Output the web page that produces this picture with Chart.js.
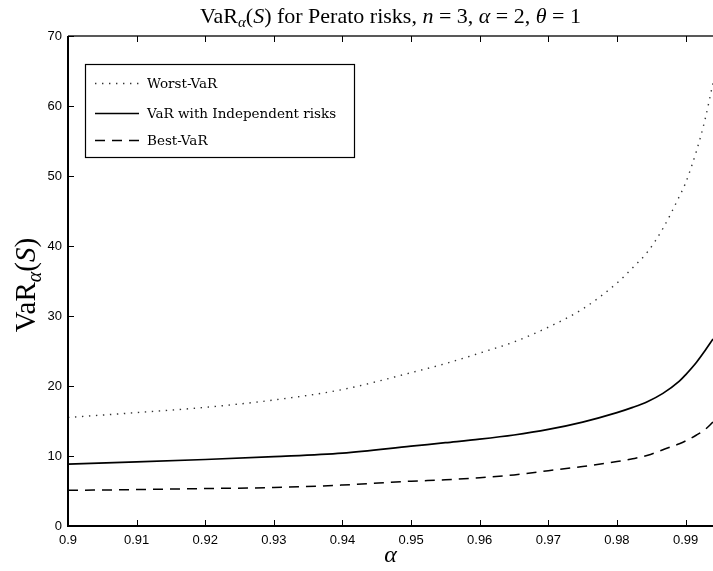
<!DOCTYPE html>
<html><head><meta charset="utf-8">
<script src="https://cdn.jsdelivr.net/npm/chart.js@4.4.0/dist/chart.umd.min.js"></script>
<style>html,body{margin:0;padding:0;background:#fff;overflow:hidden}
#wrap{position:relative;width:713px;height:571px}</style>
</head><body><div id="wrap"><canvas id="c" width="713" height="571"></canvas></div>
<script>
// ---- data ----
const alphaLevels = [0.9, 0.91, 0.92, 0.93, 0.94, 0.95, 0.955, 0.96, 0.965, 0.97, 0.975, 0.98, 0.9823, 0.9845, 0.9867, 0.9891, 0.99, 0.9916, 0.9928, 0.994];
const worstVaR    = [15.5, 16.2, 16.95, 18.0, 19.5, 21.9, 23.2, 24.7, 26.3, 28.4, 31.0, 34.7, 36.9, 39.2, 42.5, 47.1, 49.0, 53.6, 57.9, 63.3];
const indepVaR    = [8.85, 9.15, 9.5, 9.9, 10.4, 11.4, 11.9, 12.4, 13.0, 13.8, 14.85, 16.2, 16.95, 17.8, 18.95, 20.7, 21.6, 23.4, 25.0, 26.7];
const bestVaR     = [5.1, 5.2, 5.35, 5.5, 5.85, 6.4, 6.6, 6.9, 7.3, 7.9, 8.5, 9.2, 9.6, 10.1, 10.9, 11.75, 12.15, 13.0, 13.75, 14.85];
const seriesLabels = ['Worst-VaR', 'VaR with Independent risks', 'Best-VaR'];
const xTickValues = [0.9, 0.91, 0.92, 0.93, 0.94, 0.95, 0.96, 0.97, 0.98, 0.99];
const yTickValues = [0, 10, 20, 30, 40, 50, 60, 70];
const xLimits = [0.9, 0.994];
const yLimits = [0, 70];

const SERIF = '"Liberation Serif", "DejaVu Serif", serif';
const SANS = '"Liberation Sans", Arial, sans-serif';

function pts(ys){ return alphaLevels.map((a,i)=>({x:a, y:ys[i]})); }

function drawSegments(ctx, segs, x, y, align){
  let w = 0;
  segs.forEach(s=>{ ctx.font = s.f; w += ctx.measureText(s.t).width; });
  let cx = align === 'center' ? x - w/2 : x;
  ctx.textBaseline = 'alphabetic';
  ctx.textAlign = 'left';
  segs.forEach(s=>{ ctx.font = s.f; ctx.fillText(s.t, cx, y + (s.dy||0)); cx += ctx.measureText(s.t).width; });
  return w;
}

const R20 = '22px ' + SERIF, I20 = 'italic 22px ' + SERIF, I14 = 'italic 15px ' + SERIF;
const titleSegs = [
  {t:'VaR', f:R20}, {t:'α', f:I14, dy:4}, {t:'(', f:R20}, {t:'S', f:I20}, {t:')', f:R20},
  {t:' for Perato risks, ', f:R20}, {t:'n', f:I20}, {t:' = 3, ', f:R20},
  {t:'α', f:I20}, {t:' = 2, ', f:R20}, {t:'θ', f:I20}, {t:' = 1', f:R20}
];
const R22 = '29px ' + SERIF, I22 = 'italic 29px ' + SERIF, I15 = 'italic 20px ' + SERIF;
const yLabelSegs = [ {t:'VaR', f:R22}, {t:'α', f:I15, dy:6}, {t:'(', f:R22}, {t:'S', f:I22}, {t:')', f:R22} ];
const xLabelSegs = [ {t:'α', f:'italic 24px ' + SERIF} ];

const decor = {
  id: 'decor',
  afterDatasetsDraw(chart){
    const ctx = chart.ctx, a = chart.chartArea;
    const xs = chart.scales.x, ys = chart.scales.y;
    ctx.save();
    ctx.strokeStyle = '#000';
    ctx.lineWidth = 2;
    ctx.beginPath();
    ctx.moveTo(a.left, a.top); ctx.lineTo(a.left, a.bottom); ctx.lineTo(a.right, a.bottom);
    ctx.stroke();
    ctx.lineWidth = 1.3; ctx.strokeStyle = '#222';
    ctx.beginPath(); ctx.moveTo(a.left, a.top); ctx.lineTo(a.right, a.top); ctx.stroke();
    ctx.lineWidth = 1; ctx.strokeStyle = '#000';
    ctx.beginPath();
    xs.ticks.forEach(t=>{
      const px = Math.round(xs.getPixelForValue(t.value)) + 0.5;
      ctx.moveTo(px, a.bottom); ctx.lineTo(px, a.bottom - 6);
      ctx.moveTo(px, a.top); ctx.lineTo(px, a.top + 6);
    });
    ys.ticks.forEach(t=>{
      const py = Math.round(ys.getPixelForValue(t.value)) + 0.5;
      ctx.moveTo(a.left, py); ctx.lineTo(a.left + 6, py);
    });
    ctx.stroke();
    // legend
    const bx = 85, by = 64, bw = 269, bh = 93;
    ctx.fillStyle = '#fff';
    ctx.fillRect(bx, by, bw, bh);
    ctx.lineWidth = 1.2; ctx.strokeStyle = '#000';
    ctx.strokeRect(bx + 0.5, by + 0.5, bw, bh);
    const rows = [83, 113, 140];
    chart.data.datasets.forEach((ds, i)=>{
      const y = rows[i];
      ctx.save();
      ctx.strokeStyle = ds.borderColor; ctx.lineWidth = ds.borderWidth;
      ctx.setLineDash(ds.borderDash || []);
      ctx.beginPath(); ctx.moveTo(95, y + 0.5); ctx.lineTo(139, y + 0.5); ctx.stroke();
      ctx.restore();
      ctx.fillStyle = '#000';
      ctx.font = '13.5px "DejaVu Serif", serif';
      ctx.textAlign = 'left'; ctx.textBaseline = 'middle';
      ctx.fillText(ds.label, 147, y + 1);
    });
    ctx.fillStyle = '#000';
    drawSegments(ctx, titleSegs, (a.left + a.right)/2, 23, 'center');
    drawSegments(ctx, xLabelSegs, (a.left + a.right)/2, 562, 'center');
    ctx.save();
    ctx.translate(35, (a.top + a.bottom)/2 + 4);
    ctx.rotate(-Math.PI/2);
    drawSegments(ctx, yLabelSegs, 0, 0, 'center');
    ctx.restore();
    ctx.restore();
  }
};

new Chart(document.getElementById('c'), {
  type: 'line',
  data: {
    datasets: [
      { label: seriesLabels[0], data: pts(worstVaR), borderColor: '#333', borderWidth: 1.4, borderDash: [1.4, 5.6], pointRadius: 0, fill: false, cubicInterpolationMode: 'monotone' },
      { label: seriesLabels[1], data: pts(indepVaR), borderColor: '#000', borderWidth: 1.7, pointRadius: 0, fill: false, cubicInterpolationMode: 'monotone' },
      { label: seriesLabels[2], data: pts(bestVaR), borderColor: '#000', borderWidth: 1.5, borderDash: [10, 7], pointRadius: 0, fill: false, cubicInterpolationMode: 'monotone' }
    ]
  },
  options: {
    responsive: false, animation: false, devicePixelRatio: 1,
    layout: { padding: { top: 36, left: 0, right: 0, bottom: 0 } },
    plugins: { legend: { display: false }, title: { display: false }, tooltip: { enabled: false } },
    scales: {
      x: {
        type: 'linear', min: xLimits[0], max: xLimits[1],
        grid: { display: false, drawTicks: false }, border: { display: false },
        afterBuildTicks(s){ s.ticks = xTickValues.map(v=>({value:v})); },
        afterFit(s){ s.height = 45; },
        ticks: { color: '#000', font: { family: SANS, size: 13 }, padding: 7, maxRotation: 0, autoSkip: false,
          callback: v => String(+v.toFixed(2)) }
      },
      y: {
        type: 'linear', min: yLimits[0], max: yLimits[1],
        grid: { display: false, drawTicks: false }, border: { display: false },
        afterBuildTicks(s){ s.ticks = yTickValues.map(v=>({value:v})); },
        afterFit(s){ s.width = 68; },
        ticks: { color: '#000', font: { family: SANS, size: 13 }, padding: 6, autoSkip: false }
      }
    }
  },
  plugins: [decor]
});
</script></body></html>
